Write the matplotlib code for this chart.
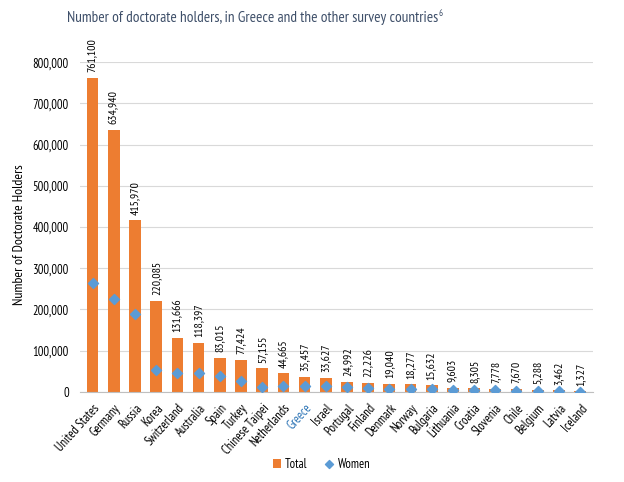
import matplotlib.pyplot as plt
from matplotlib.ticker import FuncFormatter

countries = ["United States", "Germany", "Russia", "Korea", "Switzerland", "Australia",
             "Spain", "Turkey", "Chinese Taipei", "Netherlands", "Greece", "Israel",
             "Portugal", "Finland", "Denmark", "Norway", "Bulgaria", "Lithuania",
             "Croatia", "Slovenia", "Chile", "Belgium", "Latvia", "Iceland"]
total = [761100, 634940, 415970, 220085, 131666, 118397, 83015, 77424, 57155, 44665,
         35457, 33627, 24992, 22226, 19040, 18277, 15632, 9603, 8305, 7778, 7670,
         5288, 3462, 1327]
women = [264000, 225000, 188000, 53000, 45000, 45000, 38000, 27000, 13000, 15000,
         14000, 15000, 13000, 10000, 8000, 8000, 8000, 5000, 4000, 3500, 3000,
         2500, 2000, 600]

plt.rcParams['font.family'] = ['PT Sans Narrow', 'DejaVu Sans']

orange = '#ED7D31'
blue = '#5B9BD5'

fig = plt.figure(figsize=(6.24, 4.82), dpi=100)
ax = fig.add_axes([0.128, 0.187, 0.822, 0.684])

x = list(range(len(countries)))
bars = ax.bar(x, total, width=0.55, color=orange, label='Total', zorder=2)
pts = ax.scatter(x, women, marker='D', s=26, color=blue, label='Women', zorder=3)

for i, v in zip(x, total):
    ax.text(i, v + 14000, f"{v:,}", rotation=90, ha='center', va='bottom', fontsize=8.5)

ax.set_ylim(0, 800000)
ax.set_xlim(-0.6, len(countries) - 0.4)
ax.set_yticks(range(0, 800001, 100000))
ax.yaxis.set_major_formatter(FuncFormatter(lambda v, p: f"{int(v):,}"))
ax.tick_params(axis='y', length=0, labelsize=9, pad=8)
ax.tick_params(axis='x', length=0, labelsize=9, pad=7)
ax.set_xticks(x)
ax.set_xticklabels(countries, rotation=48, ha='right', rotation_mode='anchor')
for lbl in ax.get_xticklabels():
    if lbl.get_text() == 'Greece':
        lbl.set_color('#2E75B6')

ax.grid(axis='y', color='#D9D9D9', linewidth=0.8, zorder=0)
ax.set_axisbelow(True)
for s in ['top', 'right', 'left']:
    ax.spines[s].set_visible(False)
ax.spines['bottom'].set_color('#BFBFBF')

ax.set_ylabel('Number of Doctorate Holders', fontsize=10)
ax.yaxis.set_label_coords(-0.105, 0.476)

title = fig.text(0.107, 0.962, 'Number of doctorate holders, in Greece and the other survey countries',
                 fontsize=11, color='#3E4F69', ha='left', va='center')
ax.annotate('6', xy=(1, 0.5), xycoords=title, xytext=(0.5, 0), textcoords='offset points',
            ha='left', va='bottom', fontsize=6.5, color='#3E4F69')

fig.legend([bars, pts], ['Total', 'Women'], loc='center', bbox_to_anchor=(0.515, 0.037),
           ncol=2, frameon=False, fontsize=9, handlelength=0.7, handleheight=0.7,
           handletextpad=0.3, columnspacing=1.4, markerscale=0.8)

fig.savefig('out.png', dpi=100)
